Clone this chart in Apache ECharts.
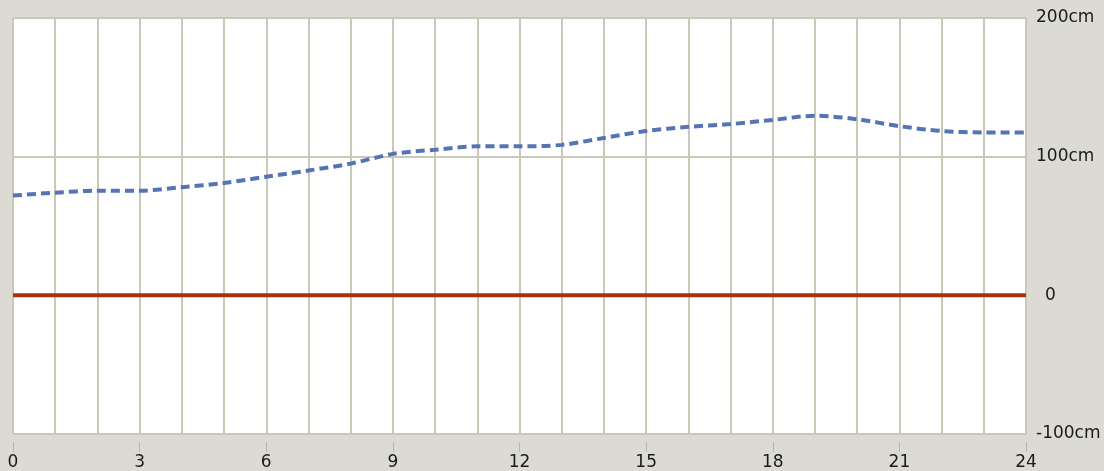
<!DOCTYPE html>
<html>
<head>
<meta charset="utf-8">
<script src="https://cdn.jsdelivr.net/npm/echarts@6/dist/echarts.min.js"></script>
<style>
  html, body { margin: 0; padding: 0; background: #dcdbd3; }
  #chart { width: 1104px; height: 471px; }
</style>
</head>
<body>
<div id="chart"></div>
<script>
// hours of the day
const hours = [0, 1, 2, 3, 4, 5, 6, 7, 8, 9, 10, 11, 12, 13, 14, 15, 16, 17, 18, 19, 20, 21, 22, 23, 24];
// measured level, cm
const level = [72, 74, 75.5, 75.5, 78, 81, 85.5, 90, 95, 102, 105, 107.5, 107.5, 108.5, 113.5, 118.5, 121.5, 123.5, 126.5, 129.5, 127, 122, 118.5, 117.5, 117.5];
// reference line
const baseHours = [0, 24];
const baseLevel = [0, 0];

const gridColor = '#c9c8b9';
const labelFont = { color: '#1a1a1a', fontFamily: 'DejaVu Sans', fontSize: 17 };

const chart = echarts.init(document.getElementById('chart'));
chart.setOption({
    backgroundColor: '#dcdbd3',
    animation: false,
    grid: {
        left: 13, right: 78, top: 18, bottom: 37,
        show: true,
        backgroundColor: '#ffffff',
        borderColor: gridColor,
        borderWidth: 1
    },
    xAxis: {
        type: 'value',
        min: 0, max: 24, interval: 3,
        offset: 8,
        axisLine: { show: true, onZero: false, lineStyle: { color: '#dcdbd3', width: 1 } },
        axisTick: { show: true, length: 10, lineStyle: { color: '#b8b7a8', width: 1 } },
        axisLabel: Object.assign({ margin: 12 }, labelFont),
        splitLine: { show: true, lineStyle: { color: gridColor, width: 2 } },
        minorTick: { show: false, splitNumber: 3 },
        minorSplitLine: { show: true, lineStyle: { color: gridColor, width: 2 } }
    },
    yAxis: {
        type: 'value',
        position: 'right',
        min: -100, max: 200, interval: 100,
        axisLine: { show: false },
        axisTick: { show: false },
        axisLabel: Object.assign({
            margin: 10,
            formatter: v => v === 0 ? '{z|0}' : v + 'cm',
            rich: { z: Object.assign({ padding: [0, 0, 0, 9] }, labelFont) }
        }, labelFont),
        splitLine: { show: true, lineStyle: { color: gridColor, width: 2 } }
    },
    series: [
        {
            type: 'line',
            data: baseHours.map((h, i) => [h, baseLevel[i]]),
            symbol: 'none',
            lineStyle: { color: '#a8320d', width: 4 }
        },
        {
            type: 'line',
            data: hours.map((h, i) => [h, level[i]]),
            symbol: 'none',
            smooth: 0.3,
            lineStyle: { color: '#5673b6', width: 4, type: [9, 5] }
        }
    ]
});
</script>
</body>
</html>
